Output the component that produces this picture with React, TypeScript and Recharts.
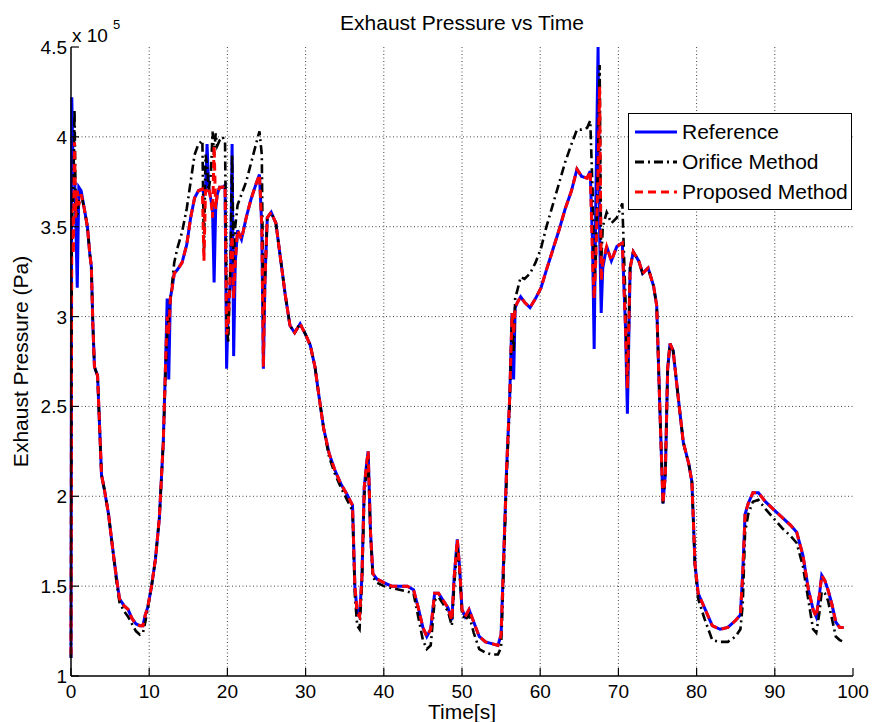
import React from 'react';
import { LineChart, Line, XAxis, YAxis, CartesianGrid, Legend } from 'recharts';

const time = [
  0, 0.1, 0.3, 0.45, 0.6, 0.8, 1.0, 1.3, 1.7, 2.1, 2.4, 2.6, 2.8, 3.0, 3.4, 3.6, 3.9, 4.3, 4.8, 5.3,
  5.8, 6.2, 6.8, 7.3, 7.8, 8.3, 8.8, 9.2, 9.5, 9.8, 10.3, 10.8, 11.3, 11.8, 12.1, 12.3, 12.5, 12.7, 12.9, 13.2,
  13.6, 14.2, 14.8, 15.3, 15.8, 16.3, 16.8, 17.0, 17.2, 17.4, 17.6, 17.9, 18.1, 18.3, 18.5, 18.7, 19.0, 19.4, 19.7, 19.9,
  20.1, 20.4, 20.6, 20.8, 21.0, 21.3, 21.8, 22.4, 23.0, 23.6, 24.1, 24.4, 24.6, 24.8, 25.1, 25.6, 26.2, 26.8, 27.4, 28.0,
  28.6, 29.3, 30.0, 30.6, 31.2, 31.7, 32.3, 33.0, 33.7, 34.5, 35.3, 36.0, 36.3, 36.6, 36.9, 37.2, 37.5, 37.8, 38.0, 38.3,
  38.6, 39.1, 40, 41, 42, 43, 43.8, 44.4, 45.0, 45.5, 46.0, 46.5, 47.0, 47.6, 48.2, 48.7, 49.0, 49.4, 49.7, 50.0,
  50.4, 50.9, 51.5, 52.2, 53.0, 53.8, 54.6, 55.0, 55.3, 55.7, 56.1, 56.4, 56.6, 56.8, 57.1, 57.5, 58.0, 58.7, 59.4, 60.1,
  60.8, 61.6, 62.4, 63.2, 64.0, 64.7, 65.3, 66.0, 66.4, 66.7, 66.9, 67.1, 67.4, 67.6, 67.8, 68.0, 68.5, 69.1, 69.8, 70.5,
  70.9, 71.15, 71.5, 71.9, 72.6, 73.1, 73.8, 74.5, 74.9, 75.3, 75.7, 76.0, 76.3, 76.6, 77.0, 77.7, 78.3, 79.0, 79.4, 79.8,
  80.2, 81.0, 82.0, 83.0, 84.0, 85.0, 85.6, 85.9, 86.2, 86.6, 87.2, 87.9, 88.8, 90.0, 91.0, 92.0, 92.8, 93.6, 94.3, 94.9,
  95.3, 95.7, 96.0, 96.4, 96.8, 97.3, 97.8, 98.3, 98.8,
];

const reference = [
  1.10, 4.22, 3.75, 3.80, 3.55, 3.16, 3.72, 3.70, 3.60, 3.50, 3.35, 3.28, 2.95, 2.72, 2.67, 2.45, 2.12, 2.03, 1.90, 1.72,
  1.55, 1.43, 1.39, 1.37, 1.32, 1.29, 1.28, 1.28, 1.34, 1.38, 1.50, 1.65, 1.88, 2.30, 2.75, 3.10, 2.65, 3.10, 3.15, 3.24,
  3.26, 3.30, 3.40, 3.55, 3.66, 3.70, 3.71, 3.68, 3.70, 3.96, 3.72, 3.65, 3.60, 3.19, 3.60, 3.68, 3.72, 3.72, 3.73, 2.71,
  3.05, 3.20, 3.96, 2.78, 3.30, 3.48, 3.43, 3.55, 3.65, 3.73, 3.79, 3.50, 2.71, 3.20, 3.55, 3.58, 3.52, 3.32, 3.12, 2.95,
  2.91, 2.96, 2.90, 2.84, 2.72, 2.56, 2.38, 2.24, 2.15, 2.07, 2.01, 1.95, 1.50, 1.35, 1.33, 1.55, 2.05, 2.18, 2.25, 1.80,
  1.57, 1.54, 1.52, 1.50, 1.50, 1.50, 1.48, 1.38, 1.27, 1.22, 1.26, 1.46, 1.46, 1.42, 1.38, 1.31, 1.55, 1.76, 1.60, 1.37,
  1.33, 1.37, 1.30, 1.22, 1.19, 1.18, 1.17, 1.23, 1.62, 2.15, 2.55, 3.02, 2.65, 3.05, 3.08, 3.11, 3.08, 3.05, 3.10, 3.16,
  3.26, 3.37, 3.48, 3.60, 3.70, 3.82, 3.78, 3.77, 3.81, 3.40, 2.82, 3.60, 4.50, 3.47, 3.02, 3.27, 3.39, 3.31, 3.39, 3.41,
  2.95, 2.46, 3.27, 3.36, 3.31, 3.24, 3.27, 3.17, 3.06, 2.49, 1.96, 2.12, 2.71, 2.85, 2.81, 2.53, 2.30, 2.18, 2.08, 1.62,
  1.46, 1.38, 1.28, 1.26, 1.27, 1.31, 1.34, 1.57, 1.90, 1.96, 2.02, 2.02, 1.97, 1.92, 1.88, 1.84, 1.80, 1.67, 1.48, 1.37,
  1.33, 1.45, 1.56, 1.53, 1.48, 1.40, 1.30, 1.27, 1.27,
];

const orifice = [
  1.10, 3.50, 3.70, 4.15, 3.60, 3.55, 3.66, 3.68, 3.60, 3.50, 3.35, 3.28, 2.95, 2.72, 2.67, 2.45, 2.12, 2.03, 1.90, 1.72,
  1.53, 1.41, 1.36, 1.33, 1.29, 1.25, 1.23, 1.24, 1.30, 1.37, 1.50, 1.65, 1.88, 2.30, 2.70, 2.90, 3.00, 3.10, 3.17, 3.30,
  3.38, 3.47, 3.60, 3.75, 3.90, 3.96, 3.98, 3.35, 3.90, 3.85, 3.70, 3.80, 4.03, 3.90, 4.02, 3.95, 3.98, 4.00, 3.97, 3.00,
  2.85, 3.30, 3.90, 3.30, 3.50, 3.62, 3.68, 3.75, 3.85, 3.95, 4.03, 3.90, 2.95, 3.20, 3.55, 3.58, 3.52, 3.32, 3.12, 2.95,
  2.91, 2.96, 2.90, 2.84, 2.72, 2.56, 2.38, 2.22, 2.13, 2.05, 1.98, 1.92, 1.45, 1.28, 1.26, 1.50, 2.00, 2.15, 2.22, 1.78,
  1.55, 1.52, 1.50, 1.49, 1.48, 1.47, 1.46, 1.33, 1.20, 1.15, 1.17, 1.42, 1.44, 1.40, 1.36, 1.28, 1.50, 1.73, 1.58, 1.35,
  1.31, 1.34, 1.24, 1.15, 1.13, 1.12, 1.12, 1.16, 1.55, 2.10, 2.52, 3.00, 2.80, 3.10, 3.15, 3.22, 3.21, 3.24, 3.30, 3.38,
  3.50, 3.62, 3.74, 3.86, 3.96, 4.04, 4.04, 4.05, 4.09, 3.70, 3.20, 3.30, 3.90, 4.40, 3.30, 3.50, 3.58, 3.52, 3.55, 3.63,
  3.10, 2.60, 3.27, 3.36, 3.31, 3.24, 3.27, 3.17, 3.06, 2.49, 1.96, 2.12, 2.71, 2.85, 2.81, 2.53, 2.30, 2.18, 2.08, 1.60,
  1.43, 1.32, 1.20, 1.19, 1.19, 1.22, 1.26, 1.40, 1.80, 1.90, 1.97, 1.98, 1.93, 1.87, 1.82, 1.78, 1.74, 1.61, 1.42, 1.26,
  1.24, 1.35, 1.47, 1.46, 1.42, 1.32, 1.22, 1.20, 1.19,
];

const proposed = [
  1.12, 3.60, 3.35, 3.97, 3.55, 3.70, 3.62, 3.68, 3.60, 3.50, 3.35, 3.28, 2.95, 2.72, 2.67, 2.45, 2.12, 2.03, 1.90, 1.72,
  1.55, 1.43, 1.39, 1.37, 1.32, 1.29, 1.28, 1.28, 1.34, 1.38, 1.50, 1.65, 1.88, 2.30, 2.75, 3.00, 2.90, 3.10, 3.15, 3.24,
  3.26, 3.30, 3.40, 3.55, 3.66, 3.70, 3.71, 3.31, 3.70, 3.70, 3.72, 3.65, 3.55, 3.95, 3.60, 3.68, 3.72, 3.72, 3.73, 2.90,
  2.95, 3.30, 3.45, 3.10, 3.30, 3.48, 3.43, 3.55, 3.65, 3.73, 3.79, 3.50, 2.72, 3.20, 3.55, 3.58, 3.52, 3.32, 3.12, 2.95,
  2.91, 2.96, 2.90, 2.84, 2.72, 2.56, 2.38, 2.24, 2.15, 2.07, 2.01, 1.95, 1.50, 1.35, 1.33, 1.55, 2.05, 2.18, 2.25, 1.80,
  1.57, 1.54, 1.52, 1.50, 1.50, 1.50, 1.48, 1.38, 1.27, 1.22, 1.26, 1.46, 1.46, 1.42, 1.38, 1.31, 1.55, 1.76, 1.60, 1.37,
  1.33, 1.37, 1.30, 1.22, 1.19, 1.18, 1.17, 1.23, 1.62, 2.15, 2.55, 3.02, 2.90, 3.05, 3.08, 3.11, 3.08, 3.05, 3.10, 3.16,
  3.26, 3.37, 3.48, 3.60, 3.70, 3.82, 3.78, 3.77, 3.81, 3.30, 3.10, 3.30, 3.80, 4.28, 3.20, 3.30, 3.39, 3.31, 3.39, 3.41,
  2.95, 2.60, 3.27, 3.36, 3.31, 3.24, 3.27, 3.17, 3.06, 2.49, 1.96, 2.12, 2.71, 2.85, 2.81, 2.53, 2.30, 2.18, 2.08, 1.62,
  1.46, 1.38, 1.28, 1.26, 1.27, 1.31, 1.34, 1.57, 1.90, 1.96, 2.02, 2.02, 1.97, 1.92, 1.88, 1.84, 1.80, 1.67, 1.48, 1.37,
  1.33, 1.45, 1.56, 1.53, 1.48, 1.40, 1.30, 1.27, 1.27,
];

const xTicks = [0, 10, 20, 30, 40, 50, 60, 70, 80, 90, 100];
const yTicks = [1, 1.5, 2, 2.5, 3, 3.5, 4, 4.5];

const seriesNames = ['Reference', 'Orifice Method', 'Proposed Method'];

const data = time.map((t, i) => ({
  t,
  ref: reference[i],
  ori: orifice[i],
  pro: proposed[i],
}));

const FONT = '"Liberation Sans", Arial, Helvetica, sans-serif';
const TICK_FS = 19;
const LABEL_FS = 21;
const TL = 8;

const BottomTick = (props: any) => {
  const { x, y, payload } = props;
  return (
    <g>
      <line x1={x} x2={x} y1={y} y2={y - TL} stroke="#000" strokeWidth={1.2} />
      <text x={x} y={y + 22} textAnchor="middle" fontSize={TICK_FS} fontFamily={FONT} fill="#000">
        {payload.value}
      </text>
    </g>
  );
};

const TopTick = (props: any) => {
  const { x, y } = props;
  return <line x1={x} x2={x} y1={y} y2={y + TL} stroke="#000" strokeWidth={1.2} />;
};

const LeftTick = (props: any) => {
  const { x, y, payload } = props;
  return (
    <g>
      <line x1={x} x2={x + TL} y1={y} y2={y} stroke="#000" strokeWidth={1.2} />
      <text x={x - 4} y={y + 7} textAnchor="end" fontSize={TICK_FS} fontFamily={FONT} fill="#000">
        {String(payload.value)}
      </text>
    </g>
  );
};

const RightTick = (props: any) => {
  const { x, y } = props;
  return <line x1={x} x2={x - TL} y1={y} y2={y} stroke="#000" strokeWidth={1.2} />;
};

const legendItems = [
  { name: seriesNames[0], color: '#0000ff', dash: undefined as string | undefined },
  { name: seriesNames[1], color: '#000000', dash: '9 4 2 4' },
  { name: seriesNames[2], color: '#ff0000', dash: '8 5' },
];

const LegendBox = () => (
  <div
    style={{
      width: 224,
      height: 97,
      boxSizing: 'border-box',
      border: '1.5px solid #000',
      background: '#fff',
      paddingTop: 3,
      fontFamily: FONT,
      fontSize: 21,
      color: '#000',
    }}
  >
    {legendItems.map((it) => (
      <div key={it.name} style={{ height: 30, display: 'flex', alignItems: 'center' }}>
        <svg width={52} height={30} style={{ display: 'block' }}>
          <line x1={6} x2={48} y1={15} y2={15} stroke={it.color} strokeWidth={3} strokeDasharray={it.dash} />
        </svg>
        <span style={{ marginLeft: 1, lineHeight: '30px', whiteSpace: 'nowrap' }}>{it.name}</span>
      </div>
    ))}
  </div>
);

export default function App() {
  return (
    <div style={{ position: 'absolute', left: 0, top: 0, width: 872, height: 722, background: '#fff' }}>
      <LineChart
        width={872}
        height={722}
        data={data}
        margin={{ top: 47, right: 19, bottom: 0, left: 0 }}
        style={{ fontFamily: FONT }}
      >
        <CartesianGrid
          stroke="#444"
          strokeWidth={1}
          strokeDasharray="1 2.5"
          horizontalValues={yTicks.slice(1, -1)}
          verticalValues={xTicks.slice(1, -1)}
        />
        <XAxis
          dataKey="t"
          type="number"
          domain={[0, 100]}
          ticks={xTicks}
          interval={0}
          height={46}
          tickSize={0}
          tickMargin={0}
          tickLine={false}
          tick={<BottomTick />}
          axisLine={{ stroke: '#000', strokeWidth: 1.5 }}
          label={{ value: 'Time[s]', position: 'insideBottom', offset: 3, fontSize: LABEL_FS, fill: '#000', fontFamily: FONT }}
        />
        <XAxis
          xAxisId="top"
          orientation="top"
          dataKey="t"
          type="number"
          domain={[0, 100]}
          ticks={xTicks}
          interval={0}
          height={0}
          tickSize={0}
          tickMargin={0}
          tickLine={false}
          tick={<TopTick />}
          axisLine={{ stroke: '#000', strokeWidth: 1.5 }}
        />
        <YAxis
          type="number"
          domain={[1, 4.5]}
          ticks={yTicks}
          interval={0}
          width={71}
          tickSize={0}
          tickMargin={0}
          tickLine={false}
          tick={<LeftTick />}
          axisLine={{ stroke: '#000', strokeWidth: 1.5 }}
          allowDataOverflow
          label={{
            value: 'Exhaust Pressure (Pa)',
            angle: -90,
            position: 'insideLeft',
            offset: 21,
            fontSize: LABEL_FS,
            fill: '#000',
            fontFamily: FONT,
            style: { textAnchor: 'middle' },
          }}
        />
        <YAxis
          yAxisId="right"
          orientation="right"
          type="number"
          domain={[1, 4.5]}
          ticks={yTicks}
          interval={0}
          width={0}
          tickSize={0}
          tickMargin={0}
          tickLine={false}
          tick={<RightTick />}
          axisLine={{ stroke: '#000', strokeWidth: 1.5 }}
        />
        <Legend
          layout="horizontal"
          verticalAlign="middle"
          align="center"
          content={() => <LegendBox />}
          wrapperStyle={{ left: 628, top: 113, width: 224, height: 97 }}
        />
        <Line
          name={seriesNames[0]}
          dataKey="ref"
          type="linear"
          stroke="#0000ff"
          strokeWidth={3}
          dot={false}
          activeDot={false}
          isAnimationActive={false}
        />
        <Line
          name={seriesNames[1]}
          dataKey="ori"
          type="linear"
          stroke="#000000"
          strokeWidth={2.6}
          strokeDasharray="9 4 2 4"
          dot={false}
          activeDot={false}
          isAnimationActive={false}
        />
        <Line
          name={seriesNames[2]}
          dataKey="pro"
          type="linear"
          stroke="#ff0000"
          strokeWidth={3}
          strokeDasharray="8 5"
          dot={false}
          activeDot={false}
          isAnimationActive={false}
        />
      </LineChart>
      <svg
        width={872}
        height={50}
        style={{ position: 'absolute', left: 0, top: 0, pointerEvents: 'none' }}
      >
        <text x={462} y={30} textAnchor="middle" fontSize={21} fontFamily={FONT} fill="#000">
          Exhaust Pressure vs Time
        </text>
        <text x={72} y={42} fontSize={19} fontFamily={FONT} fill="#000">
          x 10
        </text>
        <text x={113} y={29} fontSize={13} fontFamily={FONT} fill="#000">
          5
        </text>
      </svg>
    </div>
  );
}
